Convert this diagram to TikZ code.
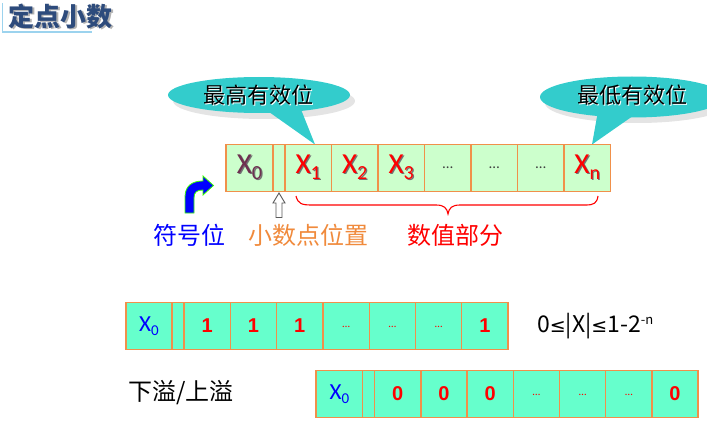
\documentclass[tikz,border=0pt]{standalone}
\usepackage{fontspec}
\setmainfont{Noto Sans CJK SC}
\newfontfamily\calfont{Carlito}
\newfontfamily\arialfont{Liberation Sans}
\newfontfamily\dejafont{DejaVu Sans}
\usetikzlibrary{shapes.geometric,calc}
\definecolor{cellline}{HTML}{F0904A}
\definecolor{topfill}{HTML}{CCFFCC}
\definecolor{botfill}{HTML}{66FFCC}
\definecolor{calloutc}{HTML}{33CCCC}
\definecolor{titleblue}{HTML}{2D4B7C}
\definecolor{titleline}{HTML}{9CD3EE}
\definecolor{xmauve}{HTML}{6E3050}
\definecolor{orangetxt}{HTML}{F08A3C}
\definecolor{shadowc}{HTML}{E4E4E4}
\definecolor{dotgray}{HTML}{404040}
\newcommand{\bigxraw}[1]{{\calfont\fontsize{29}{29}\selectfont X}\raisebox{-6pt}{\calfont\fontsize{20}{20}\selectfont #1}}
\newcommand{\bigx}[1]{\rlap{\kern1.2pt\raisebox{-1.2pt}{\color{black!55}\bigxraw{#1}}}\bigxraw{#1}}
\newcommand{\smallx}[1]{{\calfont\fontsize{23}{23}\selectfont X}\raisebox{-4.5pt}{\calfont\fontsize{15}{15}\selectfont #1}}
\newcommand{\topdots}{\raisebox{-2pt}{\calfont\fontsize{15}{15}\selectfont …}}
\newcommand{\botdots}{\raisebox{-3pt}{\calfont\fontsize{11}{11}\selectfont …}}
\newcommand{\botnum}[1]{{\arialfont\bfseries\fontsize{20}{20}\selectfont #1}}
\newcommand{\leqsym}{{\dejafont\fontsize{19}{19}\selectfont ≤}}
\tikzset{
  cellbase/.style={draw=cellline, line width=1.3pt, inner sep=0pt, outer sep=0pt,
    minimum height=47pt, anchor=west},
  topcell/.style={cellbase, fill=topfill, minimum width=46.5pt},
  rowtwocell/.style={cellbase, fill=botfill, minimum width=46.3pt},
  rowthreecell/.style={cellbase, fill=botfill, minimum width=46.2pt},
  calloutshape/.style={ellipse, fill=calloutc, inner sep=0pt, font=\fontsize{22}{22}\selectfont},
  labeltext/.style={inner sep=0pt, font=\fontsize{24}{24}\selectfont},
  hollowarrow/.style={draw=black!65, fill=white, line width=0.9pt, line join=miter},
}
\begin{document}
\begin{tikzpicture}[x=1pt,y=-1pt]
\useasboundingbox (0,0) rectangle (707,425);
% title
\draw[titleline, line width=1.2pt] (2.5,3) -- (2.5,32) -- (92,32);
\node[inner sep=0pt, font=\fontsize{26}{26}\selectfont\bfseries] (title) at (61,17)
  {\rlap{\kern1.5pt\raisebox{-1.5pt}{\color{black!30}定点小数}}\textcolor{titleblue}{定点小数}};
% callout shadows
\fill[shadowc] (264,101) ellipse [x radius=91, y radius=18];
\fill[shadowc] (637,103) ellipse [x radius=92, y radius=20];
% callouts
\node[calloutshape, minimum width=182pt, minimum height=36pt] (c1) at (259,95) {};
\node[calloutshape, minimum width=184pt, minimum height=41pt] (c2) at (632,97) {};
% top row
\node[topcell, minimum width=47pt, text=xmauve] (t0) at (226,168) {\bigx{0}};
\node[topcell, minimum width=12pt] (tp) at (t0.east) {};
\fill[calloutc] ($(c1.center)+(3,12)$) -- ($(c1.center)+(41,12)$) -- ($(t0.north west)+(89,0)$) -- cycle;
\fill[calloutc] ($(c2.center)+(-34,14)$) -- ($(c2.center)+(8,14)$) -- ($(t0.north west)+(366,0)$) -- cycle;
\node[inner sep=0pt, font=\fontsize{22}{22}\selectfont] (c1t) at ($(c1.center)+(-1,0.5)$)
  {\rlap{\kern1pt\raisebox{-1.2pt}{\color{white}最高有效位}}最高有效位};
\node[inner sep=0pt, font=\fontsize{22}{22}\selectfont] (c2t) at ($(c2.center)+(0,-1)$)
  {\rlap{\kern1pt\raisebox{-1.2pt}{\color{white}最低有效位}}最低有效位};
\node[topcell, text=red] (t1) at (tp.east) {\bigx{1}};
\node[topcell, text=red] (t2) at (t1.east) {\bigx{2}};
\node[topcell, text=red] (t3) at (t2.east) {\bigx{3}};
\node[topcell, text=dotgray] (t4) at (t3.east) {\topdots};
\node[topcell, text=dotgray] (t5) at (t4.east) {\topdots};
\node[topcell, text=dotgray] (t6) at (t5.east) {\topdots};
\node[topcell, text=red] (t7) at (t6.east) {\bigx{n}};
% sign arrow
\path[fill=blue, draw=green!70!lime, line width=0.8pt]
  (185,213) -- (185,197) .. controls (185,186) and (192,181) .. (203,181)
  -- (203,176) -- (213.5,185.5) -- (203,195) -- (203,190)
  .. controls (197,190) and (194,192) .. (194,198) -- (194,213) -- cycle;
% hollow arrow
\draw[hollowarrow] ($(tp.south)+(0,1.5)$) -- ++(6,10) -- ++(-3,0) -- ++(0,14.5) -- ++(-6,0) -- ++(0,-14.5) -- ++(-3,0) -- cycle;
% brace
\draw[red, line width=1.1pt] (296,196) .. controls (298,204) and (302,205) .. (312,205) -- (436,205)
  .. controls (444,205) and (447,208) .. (448,214) .. controls (449,208) and (452,205) .. (460,205)
  -- (586,205) .. controls (594,205) and (597,203) .. (598,196);
% labels
\node[labeltext, text=blue] (lsign) at (189,235) {符号位};
\node[labeltext, text=orangetxt] (lpoint) at (308,235) {小数点位置};
\node[labeltext, text=red] (lvalue) at (455,235) {数值部分};
% second row
\node[rowtwocell, minimum width=46pt, text=blue] (r0) at (126,326) {\smallx{0}};
\node[rowtwocell, minimum width=12pt] (rp) at (r0.east) {};
\node[rowtwocell, text=red] (r1) at (rp.east) {\botnum{1}};
\node[rowtwocell, text=red] (r2) at (r1.east) {\botnum{1}};
\node[rowtwocell, text=red] (r3) at (r2.east) {\botnum{1}};
\node[rowtwocell, text=red] (r4) at (r3.east) {\botdots};
\node[rowtwocell, text=red] (r5) at (r4.east) {\botdots};
\node[rowtwocell, text=red] (r6) at (r5.east) {\botdots};
\node[rowtwocell, text=red] (r7) at (r6.east) {\botnum{1}};
\node[inner sep=0pt, font=\fontsize{23}{23}\selectfont, anchor=west] (range) at (537,326) {0\leqsym|X|\leqsym1-2\raisebox{8pt}{\fontsize{13}{13}\selectfont -n}};
% third row
\node[labeltext] (lover) at (181,393) {下溢/上溢};
\node[rowthreecell, minimum width=46.7pt, text=blue] (s0) at (316,394) {\smallx{0}};
\node[rowthreecell, minimum width=12pt] (sp) at (s0.east) {};
\node[rowthreecell, text=red] (s1) at (sp.east) {\botnum{0}};
\node[rowthreecell, text=red] (s2) at (s1.east) {\botnum{0}};
\node[rowthreecell, text=red] (s3) at (s2.east) {\botnum{0}};
\node[rowthreecell, text=red] (s4) at (s3.east) {\botdots};
\node[rowthreecell, text=red] (s5) at (s4.east) {\botdots};
\node[rowthreecell, text=red] (s6) at (s5.east) {\botdots};
\node[rowthreecell, text=red] (s7) at (s6.east) {\botnum{0}};
\end{tikzpicture}
\end{document}
